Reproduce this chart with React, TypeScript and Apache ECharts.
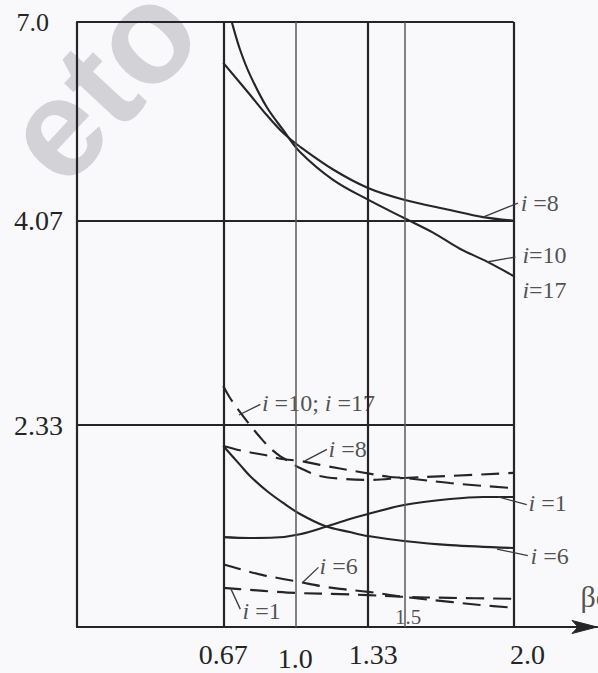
import React, { useEffect, useRef } from "react";
import * as echarts from "echarts";

// Axis extents: y uses a logarithmic scale so 7.0, 4.07 and 2.33 sit evenly apart
const X_MAX = 2.382;
const X_RIGHT = 2.0;
const Y_MIN = 1.3428;
const Y_MAX = 7.0;

const yTickValues = [7.0, 4.07, 2.33];
const yTickLabels = ["7.0", "4.07", "2.33"];
const xTickValues = [0.67, 1.0, 1.33, 1.5, 2.0];
const xTickLabels = ["0.67", "1.0", "1.33", "", "2.0"];
const xHeavy = [true, false, true, false, true];

// Solid curves
const solidI8: number[][] = [
  [0.67, 6.26], [0.7925, 5.74], [0.869, 5.43], [0.945, 5.17], [1.0215, 4.98],
  [1.173, 4.68], [1.333, 4.45], [1.498, 4.31], [1.709, 4.19], [1.86, 4.11], [2.0, 4.07],
];
const solidI10I17: number[][] = [
  [0.689, 7.33], [0.709, 7.0], [0.747, 6.49], [0.7925, 6.06], [0.869, 5.55],
  [0.945, 5.21], [1.0215, 4.91], [1.173, 4.55], [1.333, 4.31], [1.498, 4.1],
  [1.631, 3.94], [1.754, 3.77], [1.878, 3.64], [2.0, 3.5],
];
const solidI6: number[][] = [
  [0.67, 2.201], [0.747, 2.09], [0.7925, 2.028], [0.87, 1.946], [0.944, 1.884],
  [1.0215, 1.828], [1.136, 1.769], [1.25, 1.74], [1.333, 1.721], [1.498, 1.698],
  [1.709, 1.679], [2.0, 1.666],
];
const solidI1: number[][] = [
  [0.67, 1.716], [0.7925, 1.712], [0.907, 1.714], [1.0215, 1.73], [1.136, 1.764],
  [1.25, 1.803], [1.333, 1.828], [1.498, 1.873], [1.709, 1.904], [1.86, 1.915], [2.0, 1.915],
];

// Dashed curves
const dashedI10I17: number[][] = [
  [0.67, 2.592], [0.701, 2.509], [0.747, 2.414], [0.7925, 2.33], [0.838, 2.255],
  [0.884, 2.189], [0.93, 2.141], [0.976, 2.107], [1.0215, 2.072], [1.113, 2.028],
  [1.228, 2.011], [1.333, 2.006], [1.498, 2.017], [1.709, 2.028], [2.0, 2.045],
];
const dashedI8: number[][] = [
  [0.67, 2.201], [0.76, 2.171], [0.861, 2.147], [0.939, 2.124], [1.0215, 2.113],
  [1.113, 2.09], [1.296, 2.05], [1.434, 2.022], [1.498, 2.017], [1.709, 1.989], [2.0, 1.961],
];
const dashedI6: number[][] = [
  [0.67, 1.594], [0.76, 1.569], [0.852, 1.547], [0.944, 1.531], [1.0215, 1.518],
  [1.113, 1.502], [1.205, 1.49], [1.333, 1.478], [1.498, 1.458], [1.709, 1.438],
  [1.846, 1.426], [2.0, 1.415],
];
const dashedI1: number[][] = [
  [0.67, 1.494], [0.7925, 1.486], [0.916, 1.478], [1.0215, 1.473], [1.205, 1.469],
  [1.333, 1.465], [1.498, 1.458], [1.709, 1.454], [2.0, 1.45],
];

// Curve annotations: label anchor and leader line start / end
const annotationTexts = [
  "{i|i} =8", "{i|i}=10", "{i|i}=17", "{i|i} =10; {i|i} =17", "{i|i} =8",
  "{i|i} =1", "{i|i} =6", "{i|i} =6", "{i|i} =1",
];
const annotationAnchors: number[][] = [
  [2.03, 4.27], [2.038, 3.707], [2.038, 3.369], [0.845, 2.475], [1.15, 2.183],
  [2.066, 1.883], [2.075, 1.63], [1.109, 1.586], [0.756, 1.402],
];
const leaderStarts: (number[] | null)[] = [
  [1.86, 4.11], [1.878, 3.636], null, [0.742, 2.395], [1.044, 2.113],
  [1.929, 1.915], [1.924, 1.661], [1.031, 1.514], [0.705, 1.49],
];
const leaderEnds: (number[] | null)[] = [
  [2.02, 4.27], [2.008, 3.686], null, [0.84, 2.465], [1.145, 2.18],
  [2.06, 1.875], [2.065, 1.632], [1.106, 1.58], [0.748, 1.41],
];
const leaderBend = [0.3, 0.3, 0, 0.35, 0.3, -0.3, -0.3, 0.3, -0.3];

const innerTickLabel = { value: [1.517, 1.379], text: "1.5" };
const axisName = { value: [2.304, 1.461], text: "βc" };

const SERIF = "Liberation Serif, Times New Roman, serif";
const SANS = "Liberation Sans, Arial, sans-serif";
const INK = "#252525";

const watermark = {
  type: "text",
  x: 100,
  y: 82,
  rotation: 0.82,
  z: 0,
  silent: true,
  style: {
    text: "eto",
    fontSize: 140,
    fontWeight: "bold",
    fontFamily: SANS,
    fill: "#d3d3d7",
    align: "center",
    verticalAlign: "middle",
    textAlign: "center",
    textVerticalAlign: "middle",
  },
};

function buildOption() {
  const frameData: any[] = [];
  yTickValues.forEach((v, k) => {
    frameData.push([
      {
        coord: [0, v],
        lineStyle: { color: INK, width: 2.2, type: "solid" },
        label: {
          show: true,
          position: "start",
          formatter: yTickLabels[k],
          distance: v === Y_MAX ? 28 : 14,
          fontSize: v === Y_MAX ? 26 : 28,
          fontFamily: SERIF,
          color: INK,
        },
      },
      { coord: [X_RIGHT, v] },
    ]);
  });
  xTickValues.forEach((v, k) => {
    const pad =
      xTickLabels[k] === "1.0" ? [4, 0, 0, 0] :
      xTickLabels[k] === "1.33" ? [0, 0, 0, 12] :
      xTickLabels[k] === "2.0" ? [0, 0, 0, 28] : [0, 0, 0, 0];
    frameData.push([
      {
        coord: [v, Y_MIN],
        lineStyle: xHeavy[k]
          ? { color: INK, width: 2.2, type: "solid" }
          : { color: "#5a5a5a", width: 1.5, type: "solid" },
        label: {
          show: xTickLabels[k] !== "",
          position: "start",
          formatter: xTickLabels[k],
          distance: 13,
          padding: pad,
          fontSize: 28,
          fontFamily: SERIF,
          color: INK,
        },
      },
      { coord: [v, Y_MAX] },
    ]);
  });

  const leaderData: any[] = [];
  leaderStarts.forEach((s, k) => {
    const e = leaderEnds[k];
    if (!s || !e) return;
    leaderData.push([
      { coord: s, lineStyle: { curveness: leaderBend[k] } },
      { coord: e },
    ]);
  });

  const curve = (name: string, data: number[][], dashed: boolean) => ({
    name,
    type: "line",
    data,
    smooth: 0.35,
    showSymbol: false,
    symbol: "none",
    clip: true,
    silent: true,
    z: 3,
    lineStyle: {
      color: INK,
      width: 2.1,
      type: dashed ? [18, 9] : "solid",
    },
  });

  return {
    animation: false,
    backgroundColor: "#f9f9fc",
    grid: { left: 77, right: 1, top: 22, bottom: 46, containLabel: false },
    xAxis: {
      type: "value",
      min: 0,
      max: X_MAX,
      axisLabel: { show: false },
      axisTick: { show: false },
      splitLine: { show: false },
      axisLine: {
        show: true,
        onZero: false,
        lineStyle: { color: INK, width: 2.2 },
      },
    },
    yAxis: {
      type: "log",
      logBase: 10,
      min: Y_MIN,
      max: Y_MAX,
      axisLabel: { show: false },
      axisTick: { show: false },
      splitLine: { show: false },
      axisLine: { show: true, lineStyle: { color: INK, width: 2.2 } },
    },
    graphic: [watermark],
    series: [
      {
        name: "frame",
        type: "line",
        data: [],
        clip: false,
        silent: true,
        z: 2,
        markLine: {
          silent: true,
          symbol: ["none", "none"],
          animation: false,
          label: { show: false },
          emphasis: { disabled: true },
          data: frameData,
        },
      },
      curve("i=8", solidI8, false),
      curve("i=10, i=17", solidI10I17, false),
      curve("i=6", solidI6, false),
      curve("i=1", solidI1, false),
      curve("i=10, i=17 (dashed)", dashedI10I17, true),
      curve("i=8 (dashed)", dashedI8, true),
      curve("i=6 (dashed)", dashedI6, true),
      curve("i=1 (dashed)", dashedI1, true),
      {
        name: "leaders",
        type: "line",
        data: [],
        clip: false,
        silent: true,
        z: 3,
        markLine: {
          silent: true,
          symbol: ["none", "none"],
          animation: false,
          label: { show: false },
          emphasis: { disabled: true },
          lineStyle: { color: "#3a3a3a", width: 1.3, type: "solid" },
          data: leaderData,
        },
      },
      {
        name: "annotations",
        type: "scatter",
        symbolSize: 1,
        clip: false,
        silent: true,
        z: 4,
        itemStyle: { color: "rgba(0,0,0,0)" },
        label: {
          show: true,
          position: "right",
          distance: 0,
          fontSize: 24,
          fontFamily: SERIF,
          color: INK,
          rich: {
            i: { fontStyle: "italic", fontSize: 24, fontFamily: SERIF, color: INK },
          },
        },
        data: [
          ...annotationAnchors.map((p, k) => ({
            value: p,
            label: { formatter: annotationTexts[k] },
          })),
          {
            value: innerTickLabel.value,
            label: { formatter: innerTickLabel.text, position: "inside", fontSize: 21 },
          },
          {
            value: axisName.value,
            label: { formatter: axisName.text, fontSize: 30 },
          },
        ],
      },
    ],
  };
}

export default function App() {
  const ref = useRef<HTMLDivElement>(null);
  useEffect(() => {
    if (!ref.current) return;
    const chart = echarts.init(ref.current, undefined, { renderer: "svg" });
    chart.setOption(buildOption() as any);
    // Arrow head at the end of the horizontal axis, placed from the axis scale
    const tip = chart.convertToPixel({ gridIndex: 0 }, [X_MAX, Y_MIN]) as number[];
    if (tip && isFinite(tip[0]) && isFinite(tip[1])) {
      const [tx, ty] = tip;
      chart.setOption({
        graphic: [
          watermark,
          {
            type: "polygon",
            z: 10,
            silent: true,
            shape: {
              points: [
                [tx, ty],
                [tx - 25, ty - 6.5],
                [tx - 19, ty],
                [tx - 25, ty + 6.5],
              ],
            },
            style: { fill: INK, stroke: INK, lineWidth: 1 },
          },
        ],
      } as any);
    }
    return () => chart.dispose();
  }, []);
  return (
    <div
      ref={ref}
      style={{ position: "fixed", left: 0, top: 0, width: 598, height: 673 }}
    />
  );
}
